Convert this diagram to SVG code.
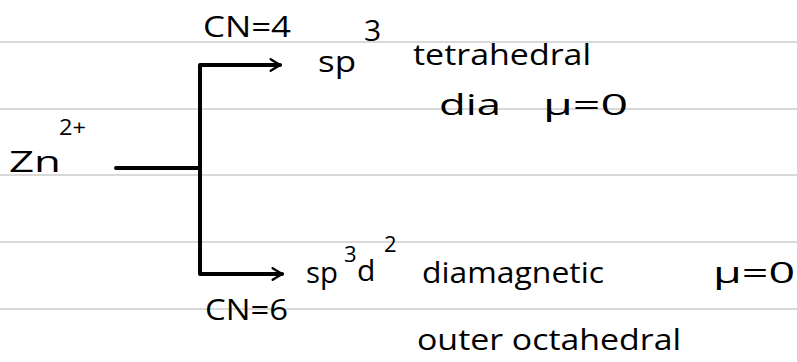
<svg xmlns="http://www.w3.org/2000/svg" width="797" height="362" viewBox="0 0 797 362">
<style>
.rule{stroke:#d9d9d9;stroke-width:2}
.t{font-family:"Open Sans","Liberation Sans",sans-serif;fill:#000;font-size:30px}
.s{font-size:22px}
.c{fill:none;stroke:#000;stroke-width:4;stroke-linecap:round;stroke-linejoin:round}
</style>
<defs>
<marker id="ah" viewBox="0 0 12 12" refX="10" refY="6" markerWidth="3.5" markerHeight="3.5" orient="auto" markerUnits="strokeWidth">
<path d="M2 1 L10 6 L2 11" fill="none" stroke="#000" stroke-width="2" stroke-linecap="round"/>
</marker>
</defs>
<rect width="797" height="362" fill="#fff"/>
<g id="rules">
<line class="rule" x1="0" y1="42" x2="797" y2="42"/>
<line class="rule" x1="0" y1="109" x2="797" y2="109"/>
<line class="rule" x1="0" y1="175" x2="797" y2="175"/>
<line class="rule" x1="0" y1="242" x2="797" y2="242"/>
<line class="rule" x1="0" y1="309" x2="797" y2="309"/>
</g>
<g id="connectors">
<path class="c" d="M116 168 H200"/>
<path class="c" d="M200 168 V65 H280" marker-end="url(#ah)"/>
<path class="c" d="M200 168 V274 H282" marker-end="url(#ah)"/>
</g>
<g id="zn">
<text class="t" x="9" y="172" font-size="36" textLength="52" lengthAdjust="spacingAndGlyphs">Zn</text>
<text class="t s" x="59" y="135" textLength="27" lengthAdjust="spacingAndGlyphs">2+</text>
</g>
<g id="cn4">
<text class="t" x="203" y="37" textLength="88" lengthAdjust="spacingAndGlyphs">CN=4</text>
</g>
<g id="sp3">
<text class="t" x="318" y="72" textLength="38" lengthAdjust="spacingAndGlyphs">sp</text>
<text class="t" x="364" y="41" font-size="26">3</text>
<text class="t" x="413" y="65" textLength="178" lengthAdjust="spacingAndGlyphs">tetrahedral</text>
<text class="t" x="439" y="115" textLength="62" lengthAdjust="spacingAndGlyphs">dia</text>
<text class="t" x="543" y="115" textLength="85" lengthAdjust="spacingAndGlyphs">μ=0</text>
</g>
<g id="cn6">
<text class="t" x="205" y="320" textLength="83" lengthAdjust="spacingAndGlyphs">CN=6</text>
</g>
<g id="sp3d2">
<text class="t" x="306" y="283" textLength="32" lengthAdjust="spacingAndGlyphs">sp</text>
<text class="t s" x="344" y="262">3</text>
<text class="t" x="357" y="281">d</text>
<text class="t s" x="384" y="252">2</text>
<text class="t" x="422" y="283" textLength="182" lengthAdjust="spacingAndGlyphs">diamagnetic</text>
<text class="t" x="713" y="283" textLength="82" lengthAdjust="spacingAndGlyphs">μ=0</text>
<text class="t" x="417" y="350" textLength="264" lengthAdjust="spacingAndGlyphs">outer octahedral</text>
</g>
</svg>
